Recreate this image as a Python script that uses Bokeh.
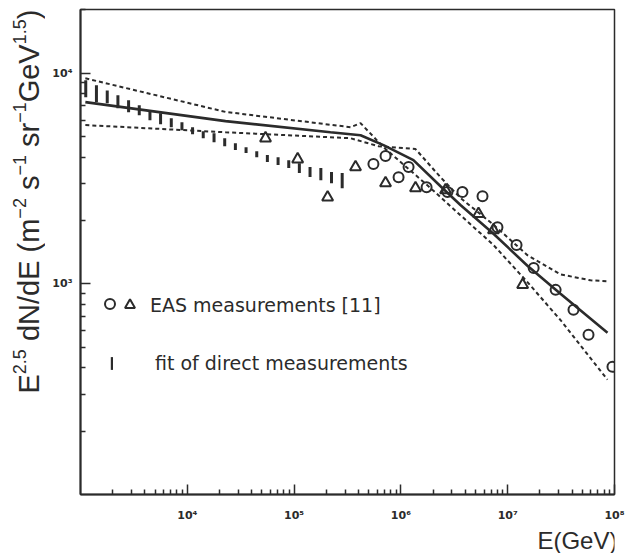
import math
from bokeh.plotting import figure
from bokeh.layouts import row, column
from bokeh.models import (Range1d, FixedTicker, CustomJSTickFormatter, Label,
                          Legend, LegendItem)
from bokeh.embed import file_html
from bokeh.resources import INLINE

INK = "#2b2b2b"

# ---------------- data ----------------
# central fit (solid)
fit_E = [1.11e3, 2.28e4, 2.19e5, 4.19e5, 6.87e5, 1.31e6, 2.35e6, 3.61e6, 7.36e6, 1.53e7, 3.12e7, 8.6e7]
fit_flux = [7300, 5930, 5250, 5080, 4560, 3870, 2910, 2370, 1730, 1220, 897, 586]

# band curve a (upper at low energy, lower at high energy; dashed)
band_a_E = [1.11e3, 2.28e4, 3.37e5, 4.19e5, 6.87e5, 1.77e6, 3.61e6, 7.36e6, 1.53e7, 3.12e7, 8.6e7]
band_a_flux = [9470, 6560, 5550, 5800, 4460, 2940, 2120, 1530, 1020, 674, 351]

# band curve b (lower at low energy, upper at high energy; dashed)
band_b_E = [1.11e3, 2.28e4, 3.37e5, 6.17e5, 1.37e6, 2.35e6, 3.61e6, 7.36e6, 1.53e7, 3.12e7, 5.96e7, 8.6e7]
band_b_flux = [5680, 5250, 4920, 4510, 4370, 3210, 2560, 1910, 1370, 1110, 1040, 1030]

# fit of direct measurements (vertical bars: low / high ends)
bar_E = [1.12e3, 1.41e3, 1.78e3, 2.24e3, 2.82e3, 3.55e3, 4.47e3, 5.62e3, 7.08e3, 8.91e3,
         1.12e4, 1.41e4, 1.78e4, 2.24e4, 2.82e4, 3.55e4, 4.47e4, 5.62e4, 7.08e4, 8.91e4,
         1.12e5, 1.41e5, 1.78e5, 2.24e5, 2.82e5]
bar_hi = [9270, 8770, 8300, 7870, 7450, 7050, 6680, 6460, 6120, 5860,
          5550, 5310, 5200, 4920, 4660, 4460, 4270, 4090, 4000, 3870,
          3740, 3590, 3550, 3400, 3360]
bar_lo = [7690, 7300, 7220, 6830, 6540, 6320, 5990, 5730, 5550, 5370,
          5140, 4920, 4710, 4510, 4320, 4180, 4000, 3790, 3670, 3550,
          3360, 3220, 3110, 3010, 2850]

# EAS measurements [11]: triangles and circles
tri_E = [5.40e4, 1.08e5, 2.06e5, 3.76e5, 7.18e5, 1.37e6, 2.62e6, 5.33e6, 7.36e6, 1.38e7]
tri_flux = [4920, 3910, 2580, 3590, 3010, 2850, 2790, 2150, 1800, 989]

circ_E = [5.53e5, 7.18e5, 9.51e5, 1.18e6, 1.74e6, 2.73e6, 3.77e6, 5.81e6, 8.02e6, 1.21e7,
          1.75e7, 2.81e7, 4.13e7, 5.71e7, 9.57e7]
circ_flux = [3710, 4050, 3210, 3590, 2880, 2730, 2730, 2610, 1860, 1530,
             1190, 937, 754, 573, 404]

x_major = [1e4, 1e5, 1e6, 1e7, 1e8]
y_major = [1e3, 1e4]

# ---------------- layout geometry ----------------
W, H = 627, 553
YSTRIP = 45          # strip holding the y title
XSTRIP = 28          # strip holding the x title
MW, MH = W - YSTRIP, H - XSTRIP

p = figure(width=MW, height=MH, x_axis_type="log", y_axis_type="log",
           x_range=Range1d(1e3, 1e8), y_range=Range1d(1e2, 2.01e4),
           output_backend="svg", toolbar_location=None,
           min_border_left=35, min_border_right=13, min_border_top=9, min_border_bottom=31)
p.background_fill_color = "white"
p.border_fill_color = "white"
p.outline_line_color = INK
p.outline_line_width = 1.5
p.xgrid.visible = False
p.ygrid.visible = False

x_minor = [m * 10 ** d for d in range(3, 8) for m in range(2, 10)]
y_minor = [m * 10 ** d for d in range(2, 4) for m in range(2, 10)] + [2e4]
fmt = CustomJSTickFormatter(code="""
const e = Math.round(Math.log10(tick));
const sup = {"0":"\u2070","1":"\u00b9","2":"\u00b2","3":"\u00b3","4":"\u2074","5":"\u2075","6":"\u2076","7":"\u2077","8":"\u2078","9":"\u2079","-":"\u207b"};
return "10" + String(e).split("").map(c => sup[c]).join("");
""")
for ax, ticks, minor in ((p.xaxis[0], x_major, x_minor), (p.yaxis[0], y_major, y_minor)):
    ax.ticker = FixedTicker(ticks=ticks, minor_ticks=minor)
    ax.formatter = fmt
    ax.axis_line_color = INK
    ax.axis_line_width = 2
    ax.major_tick_in = 10
    ax.major_tick_out = 0
    ax.minor_tick_in = 5
    ax.minor_tick_out = 0
    ax.major_tick_line_color = INK
    ax.minor_tick_line_color = INK
    ax.major_tick_line_width = 1.5
    ax.minor_tick_line_width = 1.5
    ax.major_label_text_font = "DejaVu Sans"
    ax.major_label_text_font_style = "bold"
    ax.major_label_text_font_size = "11px"
    ax.major_label_text_color = INK
p.xaxis.major_label_standoff = 14
p.yaxis.major_label_standoff = 8
p.yaxis.major_label_orientation = "horizontal"

# ---------------- marks ----------------
bar_mid = [(lo + hi) / 2 for lo, hi in zip(bar_lo, bar_hi)]
bar_len = [hi - lo for lo, hi in zip(bar_lo, bar_hi)]
r_bar = p.rect(x=bar_E, y=bar_mid, width=3, height=bar_len, width_units="screen",
               fill_color=INK, line_color=None)
p.line(band_a_E, band_a_flux, line_color=INK, line_width=2, line_dash="4 3")
p.line(band_b_E, band_b_flux, line_color=INK, line_width=2, line_dash="4 3")
p.line(fit_E, fit_flux, line_color=INK, line_width=2.6)
r_tri = p.scatter(tri_E, tri_flux, marker="triangle", size=11, fill_color=None,
                  line_color=INK, line_width=2)
r_circ = p.scatter(circ_E, circ_flux, marker="circle", size=10, fill_color=None,
                   line_color=INK, line_width=2)

# ---------------- legend ----------------
def mk_legend(items, loc, gw, gh, standoff):
    lg = Legend(items=items, location=loc, glyph_width=gw, glyph_height=gh,
                padding=0, margin=0, spacing=0, border_line_color=None,
                background_fill_alpha=0, label_standoff=standoff, label_width=0,
                label_text_font="DejaVu Sans", label_text_font_size="19px",
                label_text_color=INK)
    p.add_layout(lg, "center")
    return lg

mk_legend([LegendItem(label=" ", renderers=[r_circ])], (17, 178), 25, 25, 0)
mk_legend([LegendItem(label="EAS measurements [11]", renderers=[r_tri])], (37, 177), 25, 25, 8)
mk_legend([LegendItem(label="fit of direct measurements", renderers=[r_bar])], (30, 120), 3, 16, 42)

# ---------------- y title strip ----------------
ys = figure(width=YSTRIP, height=H, x_range=Range1d(0, YSTRIP), y_range=Range1d(0, H),
            output_backend="svg", toolbar_location=None, min_border=0,
            x_axis_location=None, y_axis_location=None)
ys.outline_line_color = None
ys.xgrid.visible = False
ys.ygrid.visible = False

AW = {'E': 667, 'd': 556, 'N': 722, '/': 278, '(': 333, ')': 333, 'm': 833, 's': 500,
      'r': 333, 'G': 778, 'e': 556, 'V': 667, ' ': 278, '2': 556, '5': 556, '1': 556,
      '.': 278, '\u2212': 584}
def tw(s):
    return sum(AW[c] for c in s) / 1000.0

F = 29
SUPF = 0.62 * F
# (text, superscript?) ; spaces are advanced separately (SVG collapses them)
pieces = [("E", 0), ("2.5", 1), (" ", 0), ("dN/dE", 0), (" ", 0), ("(m", 0), ("\u22122", 1),
          (" ", 0), ("s", 0), ("\u22121", 1), (" ", 0), ("sr", 0), ("\u22121", 1),
          ("GeV", 0), ("1.5", 1), (")", 0)]
MAIN_X, SUP_X = 28.0, 18.5   # column centres of main text and superscripts
cur = 393.0                   # canvas y where the title starts (its bottom end)
for txt, sup in pieces:
    size = SUPF if sup else F
    if txt.strip():
        ys.add_layout(Label(x=SUP_X if sup else MAIN_X, y=H - cur,
                            text=txt, angle=math.pi / 2,
                            text_font="Liberation Sans", text_font_size=f"{size:.1f}px",
                            text_color=INK, text_align="left", text_baseline="middle"))
    cur -= tw(txt) * size

# ---------------- x title strip ----------------
xs = figure(width=MW, height=XSTRIP, x_range=Range1d(0, MW), y_range=Range1d(0, XSTRIP),
            output_backend="svg", toolbar_location=None, min_border=0,
            x_axis_location=None, y_axis_location=None)
xs.outline_line_color = None
xs.xgrid.visible = False
xs.ygrid.visible = False
xs.add_layout(Label(x=543 - YSTRIP, y=H - 540, text="E(GeV)", text_font="Liberation Sans",
                    text_font_size="24px", text_color=INK,
                    text_align="left", text_baseline="middle"))

layout = row(ys, column(p, xs))
open("out.html", "w").write(file_html(layout, INLINE))
